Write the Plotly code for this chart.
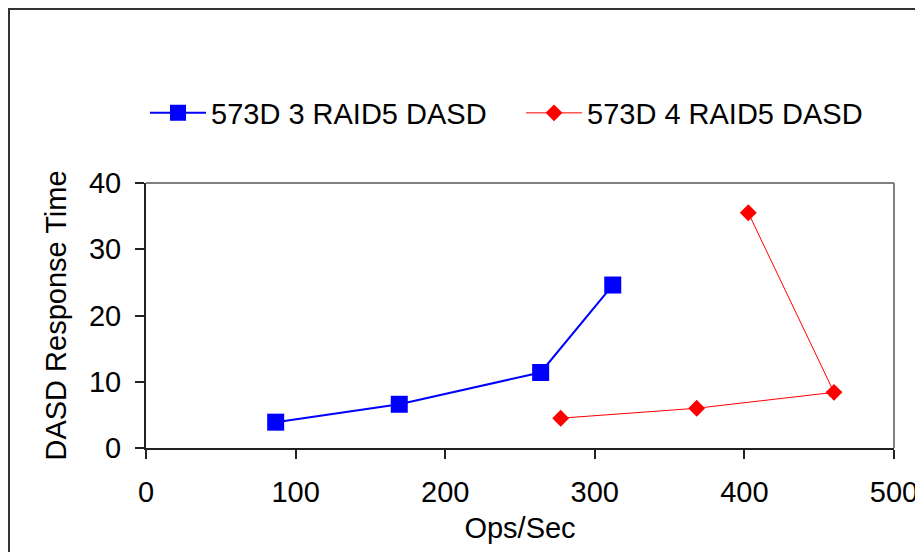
import plotly.graph_objects as go

series1_name = "573D 3 RAID5 DASD"
series1_x = [86.7, 169.3, 263.8, 312.0]
series1_y = [3.9, 6.6, 11.4, 24.6]

series2_name = "573D 4 RAID5 DASD"
series2_x = [277.2, 368.1, 459.9, 402.6]
series2_y = [4.5, 6.0, 8.4, 35.5]

x_ticks = [0, 100, 200, 300, 400, 500]
y_ticks = [0, 10, 20, 30, 40]

FONT = "Liberation Sans, Arial, sans-serif"
FS = 29
W, H = 923, 552
L, R, T, B = 138, 37, 175, 112
pw, ph = W - L - R, H - T - B

def px(xp):
    return (xp - L) / pw

def py(yp):
    return (H - B - yp) / ph

fig = go.Figure()
fig.add_trace(go.Scatter(
    x=series1_x, y=series1_y, name=series1_name, mode="lines+markers",
    line=dict(color="#0000ff", width=2),
    marker=dict(symbol="square", size=17, color="#0000ff"),
))
fig.add_trace(go.Scatter(
    x=series2_x, y=series2_y, name=series2_name, mode="lines+markers",
    line=dict(color="#ff0000", width=1),
    marker=dict(symbol="diamond", size=13, color="#ff0000"),
))

shapes = [
    # outer chart border
    dict(type="rect", xref="paper", yref="paper",
         x0=px(1), x1=px(W - 1), y0=py(1), y1=py(H - 1),
         line=dict(color="#333333", width=2), fillcolor="rgba(0,0,0,0)", layer="below"),
    # top and right plot-area border (grey)
    dict(type="line", xref="paper", yref="paper", x0=0, x1=1, y0=1, y1=1,
         line=dict(color="#808080", width=2)),
    dict(type="line", xref="paper", yref="paper", x0=1, x1=1, y0=0, y1=1,
         line=dict(color="#808080", width=2)),
]

fig.update_layout(
    width=W, height=H,
    margin=dict(l=L, r=R, t=T, b=B, pad=0),
    paper_bgcolor="white", plot_bgcolor="white",
    font=dict(family=FONT, size=FS, color="black"),
    showlegend=True,
    legend=dict(
        orientation="h", x=px(137), xanchor="left", y=py(105), yanchor="middle",
        font=dict(family=FONT, size=FS, color="black"),
        bgcolor="rgba(0,0,0,0)", itemwidth=56, entrywidth=305, entrywidthmode="pixels",
        itemclick=False,
    ),
    shapes=shapes,
    xaxis=dict(
        range=[0, 500], tickmode="array", tickvals=x_ticks,
        ticks="outside", ticklen=9, tickwidth=1.5, tickcolor="#222222",
        showline=True, linecolor="#222222", linewidth=2,
        showgrid=False, zeroline=False,
        tickfont=dict(family=FONT, size=FS, color="black"),
        title=dict(text="Ops/Sec", font=dict(family=FONT, size=FS, color="black"), standoff=11),
        ticklabelstandoff=8,
    ),
    yaxis=dict(
        range=[0, 40], tickmode="array", tickvals=y_ticks,
        ticks="outside", ticklen=9, tickwidth=1.5, tickcolor="#222222",
        showline=True, linecolor="#222222", linewidth=2,
        showgrid=False, zeroline=False,
        tickfont=dict(family=FONT, size=FS, color="black"),
        title=dict(text="DASD Response Time", font=dict(family=FONT, size=FS, color="black"), standoff=14),
        ticklabelstandoff=8,
    ),
)

fig.write_html("out.html")
